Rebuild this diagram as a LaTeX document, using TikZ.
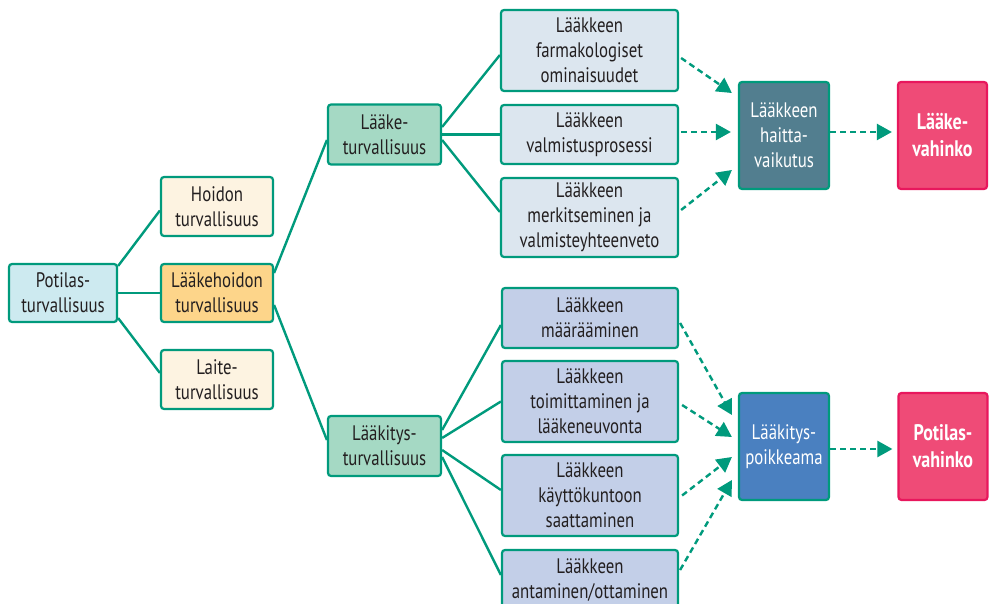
\documentclass[tikz,border=0pt]{standalone}
\usepackage{fontspec}
\setmainfont{PT Sans}[FakeStretch=0.8]
\usetikzlibrary{arrows.meta}
\definecolor{lineteal}{HTML}{009A7C}
\definecolor{txtgrey}{HTML}{231F20}
\definecolor{potfill}{HTML}{CDEAF0}
\definecolor{creamfill}{HTML}{FDF3E1}
\definecolor{orangefill}{HTML}{FDD58A}
\definecolor{mintfill}{HTML}{A5D9C4}
\definecolor{greyblue}{HTML}{DCE6EF}
\definecolor{lavender}{HTML}{C3CFE8}
\definecolor{haittafill}{HTML}{527E8F}
\definecolor{poikfill}{HTML}{4A80C0}
\definecolor{pinkfill}{HTML}{EF4B77}
\definecolor{pinkline}{HTML}{E8175D}
\begin{document}
\begin{tikzpicture}[x=1pt,y=1pt]
\tikzstyle{every node}+=[inner sep=0pt,font=\fontsize{21}{25}\selectfont,text=txtgrey,align=center]
\tikzstyle{box}=[draw=lineteal,line width=2.2pt,rounded corners=3pt]
\tikzstyle{harm}=[box,draw=pinkline,fill=pinkfill,text=white,font=\fontsize{22.5}{27}\selectfont\bfseries]
\tikzstyle{link}=[draw=lineteal,line width=2.4pt]
\tikzstyle{dlink}=[draw=lineteal,line width=2.4pt,dash pattern=on 6pt off 4pt,-{Triangle[length=15pt,width=16pt]}]
\useasboundingbox (0,0) rectangle (989,-604);
% left part
\node [box,fill=potfill,minimum width=108,minimum height=58] (pot) at (63,-293) {Potilas-\\turvallisuus};
\node [box,fill=creamfill,minimum width=112,minimum height=59] (hoi) at (217,-206.5) {Hoidon\\turvallisuus};
\node [box,fill=orangefill,minimum width=112,minimum height=58] (lhoi) at (217,-293) {Lääkehoidon\\turvallisuus};
\node [box,fill=creamfill,minimum width=112,minimum height=59] (lai) at (217,-379.5) {Laite-\\turvallisuus};
\node [box,fill=mintfill,minimum width=113,minimum height=60] (lturv) at (384.5,-134.5) {Lääke-\\turvallisuus};
\node [box,fill=mintfill,minimum width=113,minimum height=60] (lkturv) at (384.5,-446) {Lääkitys-\\turvallisuus};
% upper column
\node [box,fill=greyblue,minimum width=177,minimum height=81] (farm) at (589.5,-50.5) {Lääkkeen\\farmakologiset\\ominaisuudet};
\node [box,fill=greyblue,minimum width=177,minimum height=59] (valm) at (589.5,-134.5) {Lääkkeen\\valmistusprosessi};
\node [box,fill=greyblue,minimum width=177,minimum height=79] (merk) at (589.5,-217.5) {Lääkkeen\\merkitseminen ja\\valmisteyhteenveto};
% lower column
\node [box,fill=lavender,minimum width=176,minimum height=60] (maar) at (590,-318) {Lääkkeen\\määrääminen};
\node [box,fill=lavender,minimum width=176,minimum height=81] (toim) at (590,-401.5) {Lääkkeen\\toimittaminen ja\\lääkeneuvonta};
\node [box,fill=lavender,minimum width=176,minimum height=81] (kayt) at (590,-495.5) {Lääkkeen\\käyttökuntoon\\saattaminen};
\node [box,fill=lavender,minimum width=176,minimum height=60] (anta) at (590,-580) {Lääkkeen\\antaminen/ottaminen};
% right part
\node [box,fill=haittafill,text=white,minimum width=90,minimum height=107] (haitta) at (784,-135.5) {Lääkkeen\\haitta-\\vaikutus};
\node [harm,minimum width=89,minimum height=107] (lvah) at (942.5,-135.5) {Lääke-\\vahinko};
\node [box,fill=poikfill,text=white,minimum width=90,minimum height=107] (poik) at (784,-446.5) {Lääkitys-\\poikkeama};
\node [harm,minimum width=89,minimum height=107] (pvah) at (943,-446.5) {Potilas-\\vahinko};
% tree lines
\draw [link] ([yshift=27pt]pot.east) -- ([yshift=-4pt]hoi.west);
\draw [link] (pot.east) -- (lhoi.west);
\draw [link] ([yshift=-25pt]pot.east) -- ([yshift=6.5pt]lai.west);
\draw [link] ([yshift=20pt]lhoi.east) -- ([yshift=-5.5pt]lturv.west);
\draw [link] ([yshift=-12pt]lhoi.east) -- ([yshift=6pt]lkturv.west);
\draw [link] ([yshift=7.5pt]lturv.east) -- ([yshift=-4.5pt]farm.west);
\draw [link] (lturv.east) -- (valm.west);
\draw [link] ([yshift=-5.5pt]lturv.east) -- ([yshift=5.5pt]merk.west);
\draw [link] ([yshift=16pt]lkturv.east) -- ([yshift=-7pt]maar.west);
\draw [link] ([yshift=8pt]lkturv.east) -- (toim.west);
\draw [link] ([yshift=-4pt]lkturv.east) -- ([yshift=5.5pt]kayt.west);
\draw [link] ([yshift=-11pt]lkturv.east) -- ([yshift=5pt]anta.west);
% dashed arrows
\draw [dlink] ([xshift=2pt,yshift=-7.5pt]farm.east) -- ([xshift=-6pt,yshift=42.5pt]haitta.west);
\draw [dlink] ([xshift=2pt,yshift=2.5pt]valm.east) -- ([xshift=-7pt,yshift=3.5pt]haitta.west);
\draw [dlink] ([xshift=2pt,yshift=7.5pt]merk.east) -- ([xshift=-6pt,yshift=-34.5pt]haitta.west);
\draw [dlink] ([yshift=3.5pt]haitta.east) -- ([xshift=-5pt,yshift=3.5pt]lvah.west);
\draw [dlink] ([xshift=1pt,yshift=-5pt]maar.east) -- ([xshift=-6pt,yshift=31.5pt]poik.west);
\draw [dlink] ([xshift=3pt,yshift=-3.5pt]toim.east) -- ([xshift=-6pt,yshift=9.5pt]poik.west);
\draw [dlink] ([xshift=3pt]kayt.east) -- ([xshift=-6pt,yshift=-10.5pt]poik.west);
\draw [dlink] ([xshift=1pt,yshift=10pt]anta.east) -- ([xshift=-6pt,yshift=-33.5pt]poik.west);
\draw [dlink] ([yshift=-2.5pt]poik.east) -- ([xshift=-5pt,yshift=-2.5pt]pvah.west);
\end{tikzpicture}
\end{document}
